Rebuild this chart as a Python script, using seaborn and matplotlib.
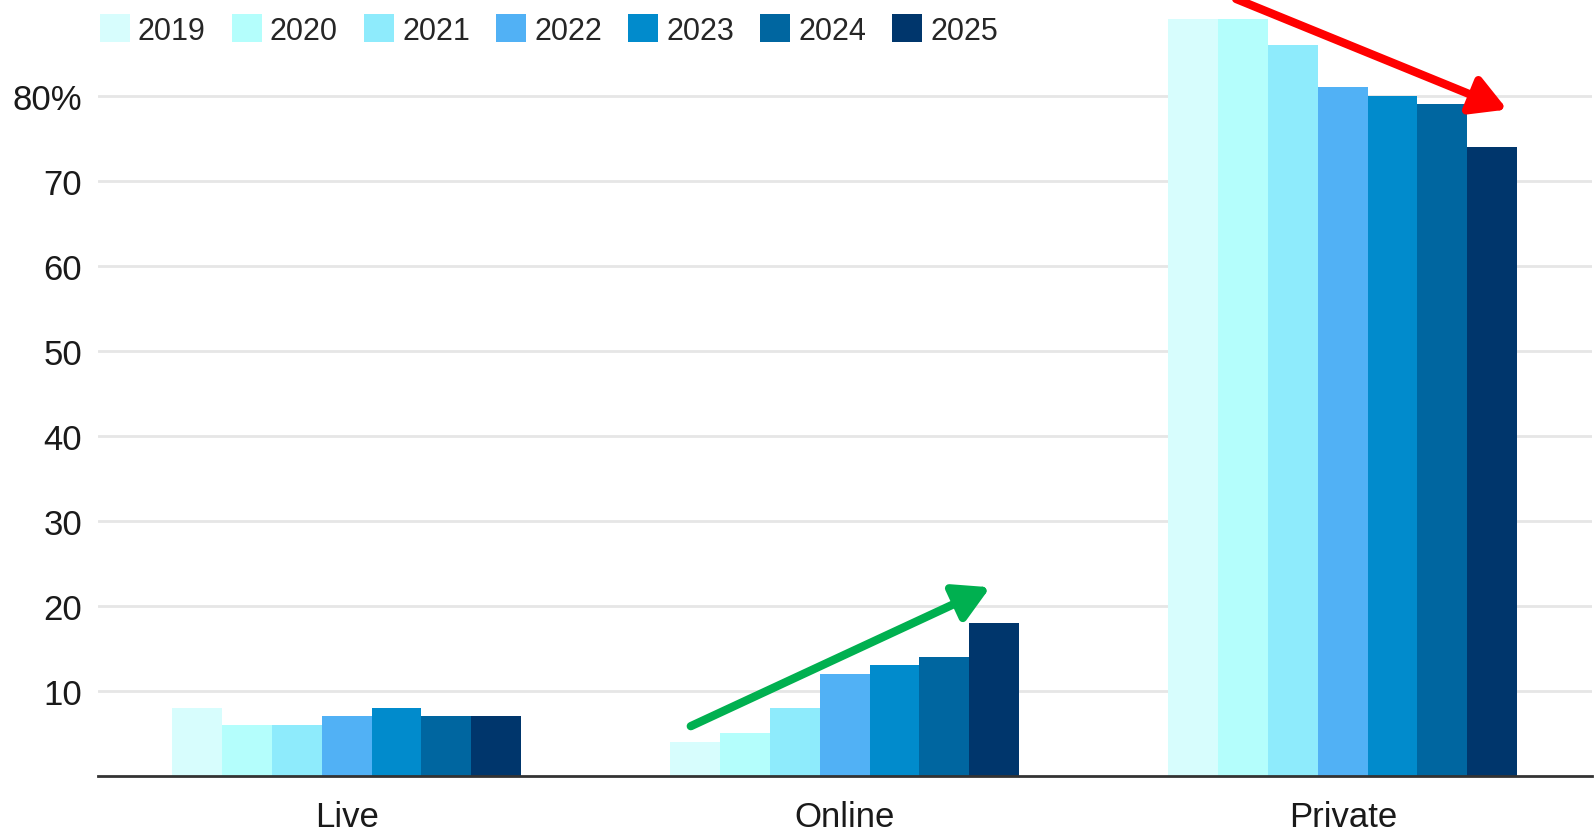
import matplotlib
matplotlib.use("Agg")
import matplotlib.pyplot as plt
import seaborn as sns
import pandas as pd

categories = ["Live", "Online", "Private"]
years = ["2019", "2020", "2021", "2022", "2023", "2024", "2025"]
live = [8, 6, 6, 7, 8, 7, 7]
online = [4, 5, 8, 12, 13, 14, 18]
private = [89, 89, 86, 81, 80, 79, 74]
colors = ["#d7fdfd", "#b4fefc", "#8eebfc", "#51b1f5", "#018bcc", "#0066a0", "#00366c"]
yticks = [10, 20, 30, 40, 50, 60, 70, 80]
ytick_labels = ["10", "20", "30", "40", "50", "60", "70", "80%"]

rows = []
for cat, vals in zip(categories, [live, online, private]):
    for yr, v in zip(years, vals):
        rows.append({"category": cat, "year": yr, "value": v})
df = pd.DataFrame(rows)

sns.set_theme(style="white")
plt.rcParams["font.family"] = ["Liberation Sans", "DejaVu Sans"]

fig = plt.figure(figsize=(15.95, 8.37), dpi=100)
ax = fig.add_axes([0.0612, 0.0717, 0.9368, 0.9283])

sns.barplot(data=df, x="category", y="value", hue="year", palette=colors,
            width=0.7, gap=0, linewidth=0, saturation=1, ax=ax, legend=True,
            errorbar=None)

ax.set_xlim(-0.5, 2.5)
ax.set_ylim(0, 91.4)
ax.set_yticks(yticks)
ax.set_yticklabels(ytick_labels)
ax.grid(axis="y", color="#e6e6e6", linewidth=2)
ax.set_axisbelow(True)
for s in ["left", "right", "top"]:
    ax.spines[s].set_visible(False)
ax.spines["bottom"].set_color("#333333")
ax.spines["bottom"].set_linewidth(2)
ax.tick_params(axis="y", length=0, labelsize=25, colors="#1a1a1a", pad=11)
ax.tick_params(axis="x", length=0, labelsize=25, colors="#1a1a1a", pad=17)
ax.set_xlabel("")
ax.set_ylabel("")

# trend arrows
astyle = "-|>,head_length=0.5,head_width=0.28"
ax.annotate("", xy=(1.292, 22.2), xytext=(0.691, 5.86),
            arrowprops=dict(arrowstyle=astyle, color="#00b050", lw=6,
                            mutation_scale=42, shrinkA=0, shrinkB=0),
            annotation_clip=False)
ax.annotate("", xy=(2.33, 78.4), xytext=(1.786, 91.4),
            arrowprops=dict(arrowstyle=astyle, color="#ff0000", lw=6,
                            mutation_scale=42, shrinkA=0, shrinkB=0),
            annotation_clip=False)

handles, labels = ax.get_legend_handles_labels()
ax.get_legend().remove()
fig.legend(handles, labels, loc="center left", bbox_to_anchor=(0.0625, 0.963),
           ncol=7, frameon=False, fontsize=22, handlelength=1.0, handleheight=1.0,
           handletextpad=0.25, columnspacing=0.85, borderpad=0, borderaxespad=0)

fig.savefig("out.png", dpi=100)
